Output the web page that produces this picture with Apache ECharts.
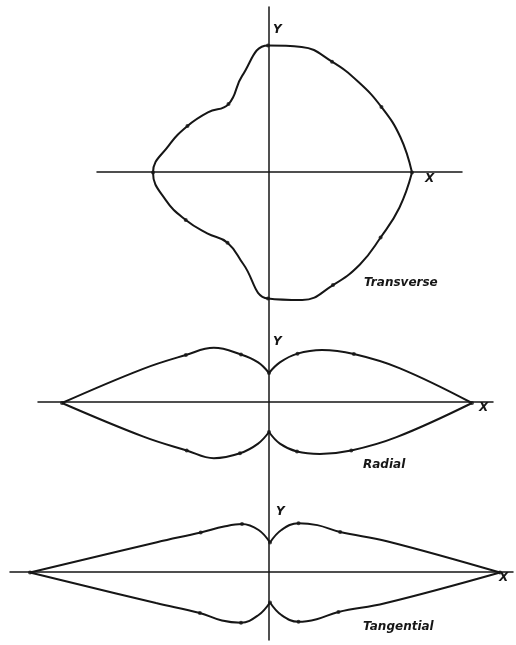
<!DOCTYPE html>
<html>
<head>
<meta charset="utf-8">
<title>Transverse / Radial / Tangential</title>
<script src="https://cdn.jsdelivr.net/npm/echarts@6/dist/echarts.min.js"></script>
<style>
  html, body { margin: 0; padding: 0; background: #fff; }
  #main { width: 516px; height: 645px; }
</style>
</head>
<body>
<div id="main"></div>
<script>
// polar readings: angle in degrees (0 = +X, 90 = +Y), radius in drawing units
const angles = [0, 15, 30, 45, 60, 75, 90, 105, 120, 135, 150, 165, 180,
  195, 210, 225, 240, 255, 270, 285, 300, 315, 330, 345, 360];

const transverse = [144, 137, 131, 128, 128, 130, 127, 100, 79, 85, 93, 103, 115,
  106, 95, 86, 81, 95, 126, 132, 130, 130, 130, 136, 144];

const radial = [203, 135, 98, 75, 57, 42, 30, 42, 56, 78, 96, 131, 207,
  130, 95, 78, 58, 42, 29, 42, 56, 72, 95, 132, 203];

const tangential = [230, 121, 81, 67, 57, 44, 30, 44, 56, 65, 80, 117, 240,
  118, 81, 68, 58, 44, 30, 44, 57, 66, 79, 119, 230];

const diagramNames = ['Transverse', 'Radial', 'Tangential'];
const axisNames = ['X', 'Y'];

const ink = '#161616';
const chart = echarts.init(document.getElementById('main'));

// one polar system per diagram, 1 unit = 1 px
const polarCenters = [[268, 172.5], [269, 403], [270, 572.5]];
const rMax = 250;

const toPairs = (vals, from, to) => {
  const out = [];
  for (let i = from; i <= to; i++) out.push([vals[i], angles[i]]);
  return out;
};

const series = [];

// transverse: one closed smooth curve
series.push({
  type: 'line', coordinateSystem: 'polar', polarIndex: 0,
  data: toPairs(transverse, 0, angles.length - 1),
  smooth: 0.45, showSymbol: false, silent: true,
  lineStyle: { color: ink, width: 2 }
});

// radial / tangential: four lobes each, pointed at tips and cusps
[radial, tangential].forEach((vals, k) => {
  for (let q = 0; q < 4; q++) {
    series.push({
      type: 'line', coordinateSystem: 'polar', polarIndex: k + 1,
      data: toPairs(vals, q * 6, q * 6 + 6),
      smooth: 0.4, showSymbol: false, silent: true,
      lineStyle: { color: ink, width: 2 }
    });
  }
});

// measured points every 30 degrees
[transverse, radial, tangential].forEach((vals, k) => {
  const pts = [];
  angles.forEach((a, i) => {
    if (a % 30 === 0 && a < 360) pts.push([vals[i], a]);
  });
  series.push({
    type: 'scatter', coordinateSystem: 'polar', polarIndex: k,
    data: pts, symbolSize: 4, silent: true,
    itemStyle: { color: ink }
  });
});

const hiddenAxis = (g) => ({ type: 'value', gridIndex: g, min: 0, max: 1, show: false });
const lineAxis = (g, pos) => ({
  type: 'value', gridIndex: g, min: 0, max: 1, position: pos,
  axisLine: { show: true, onZero: false, lineStyle: { color: ink, width: 1.5 } },
  axisTick: { show: false }, axisLabel: { show: false }, splitLine: { show: false }
});

const labelStyle = (txt, x, y, size) => ({
  type: 'text', x: x, y: y,
  style: {
    text: txt, fill: ink, font: 'italic bold ' + size + 'px "DejaVu Sans"',
    textAlign: 'left', textVerticalAlign: 'middle'
  }
});

chart.setOption({
  backgroundColor: '#fff',
  animation: false,
  // grid 0 carries the long Y line, grids 1-3 the X lines
  grid: [
    { left: 269, top: 7, width: 1, height: 633 },
    { left: 97, top: 172, width: 365, height: 1 },
    { left: 38, top: 402, width: 455, height: 1 },
    { left: 10, top: 572, width: 503, height: 1 }
  ],
  xAxis: [hiddenAxis(0), lineAxis(1, 'top'), lineAxis(2, 'top'), lineAxis(3, 'top')],
  yAxis: [lineAxis(0, 'left'), hiddenAxis(1), hiddenAxis(2), hiddenAxis(3)],
  polar: polarCenters.map(c => ({ center: c, radius: rMax })),
  angleAxis: polarCenters.map((c, i) => ({
    polarIndex: i, type: 'value', min: 0, max: 360, startAngle: 0, clockwise: false,
    show: false
  })),
  radiusAxis: polarCenters.map((c, i) => ({
    polarIndex: i, type: 'value', min: 0, max: rMax, show: false
  })),
  series: series,
  graphic: [
    labelStyle(axisNames[1], 273, 30, 12),
    labelStyle(axisNames[0], 425, 179, 12),
    labelStyle(diagramNames[0], 364, 283, 12),
    labelStyle(axisNames[1], 273, 342, 12),
    labelStyle(axisNames[0], 479, 408, 12),
    labelStyle(diagramNames[1], 363, 465, 12),
    labelStyle(axisNames[1], 276, 512, 12),
    labelStyle(axisNames[0], 499, 578, 12),
    labelStyle(diagramNames[2], 363, 627, 12)
  ]
});
</script>
</body>
</html>
